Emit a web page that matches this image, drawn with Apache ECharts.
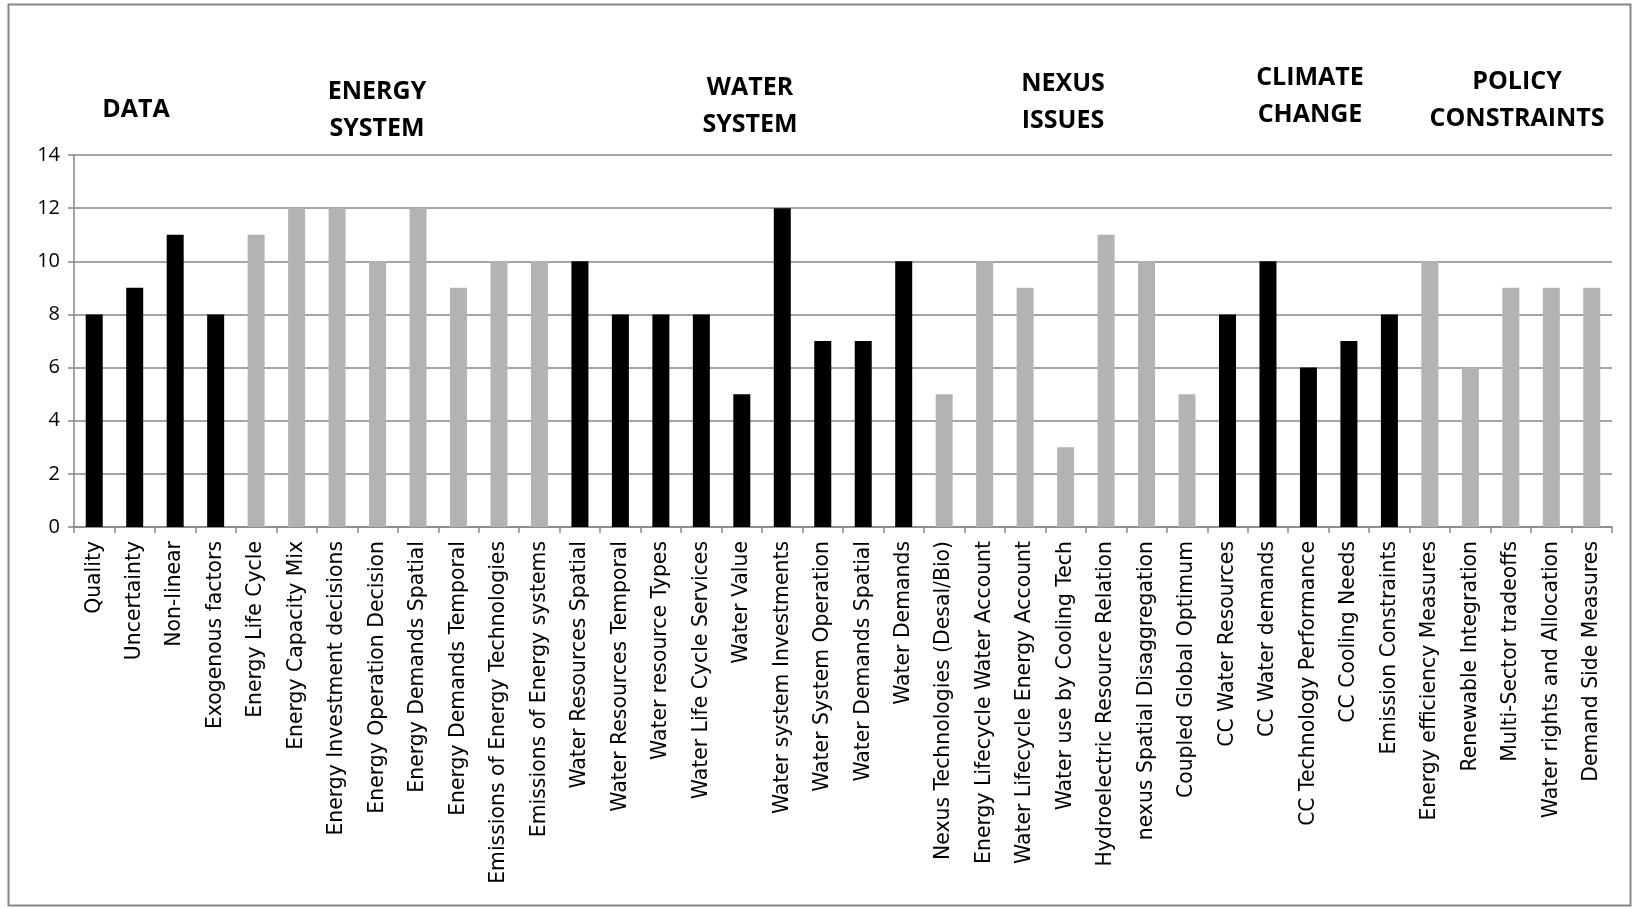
<!DOCTYPE html>
<html>
<head>
<meta charset="utf-8">
<script src="https://cdn.jsdelivr.net/npm/echarts@6/dist/echarts.min.js"></script>
<style>
  html, body { margin: 0; padding: 0; background: #ffffff; }
  #chart { width: 1633px; height: 908px; }
</style>
</head>
<body>
<div id="chart"></div>
<script>
// Model features, grouped by theme
const categories = [
  'Quality', 'Uncertainty', 'Non-linear', 'Exogenous factors',
  'Energy Life Cycle', 'Energy Capacity Mix', 'Energy Investment decisions', 'Energy Operation Decision',
  'Energy Demands Spatial', 'Energy Demands Temporal', 'Emissions of Energy Technologies', 'Emissions of Energy systems',
  'Water Resources Spatial', 'Water Resources Temporal', 'Water resource Types', 'Water Life Cycle Services',
  'Water Value', 'Water system Investments', 'Water System Operation', 'Water Demands Spatial', 'Water Demands',
  'Nexus Technologies (Desal/Bio)', 'Energy Lifecycle Water Account', 'Water Lifecycle Energy Account',
  'Water use by Cooling Tech', 'Hydroelectric Resource Relation', 'nexus Spatial Disaggregation', 'Coupled Global Optimum',
  'CC Water Resources', 'CC Water demands', 'CC Technology Performance', 'CC Cooling Needs', 'Emission Constraints',
  'Energy efficiency Measures', 'Renewable Integration', 'Multi-Sector tradeoffs', 'Water rights and Allocation',
  'Demand Side Measures'
];

// Number of models covering each feature
const values = [
  8, 9, 11, 8,
  11, 12, 12, 10, 12, 9, 10, 10,
  10, 8, 8, 8, 5, 12, 7, 7, 10,
  5, 10, 9, 3, 11, 10, 5,
  8, 10, 6, 7, 8,
  10, 6, 9, 9, 9
];

// Theme of each feature (index into groupNames)
const groupOf = [
  0, 0, 0, 0,
  1, 1, 1, 1, 1, 1, 1, 1,
  2, 2, 2, 2, 2, 2, 2, 2, 2,
  3, 3, 3, 3, 3, 3, 3,
  4, 4, 4, 4, 4,
  5, 5, 5, 5, 5
];

const groupNames = ['DATA', 'ENERGY\nSYSTEM', 'WATER\nSYSTEM', 'NEXUS\nISSUES', 'CLIMATE\nCHANGE', 'POLICY\nCONSTRAINTS'];
const groupColors = ['#000000', '#b3b3b3', '#000000', '#b3b3b3', '#000000', '#b3b3b3'];

const yTicks = { min: 0, max: 14, interval: 2 };

// Heading placement above the plot
const headingPos = [
  { x: 136, y: 110 },
  { x: 377, y: 110 },
  { x: 750, y: 106 },
  { x: 1063, y: 102 },
  { x: 1310, y: 96 },
  { x: 1517, y: 100 }
];

const chart = echarts.init(document.getElementById('chart'));

const axisGray = '#868686';

chart.setOption({
  backgroundColor: '#ffffff',
  animation: false,
  grid: { left: 74, right: 21, top: 155, bottom: 381, containLabel: false },
  xAxis: {
    type: 'category',
    data: categories,
    axisLine: { show: true, lineStyle: { color: axisGray, width: 1.5 } },
    axisTick: { show: true, length: 6, lineStyle: { color: axisGray, width: 1.5 } },
    axisLabel: {
      rotate: 90,
      interval: 0,
      margin: 14,
      color: '#000000',
      fontFamily: 'DejaVu Sans',
      fontSize: 20.4
    }
  },
  yAxis: {
    type: 'value',
    min: yTicks.min,
    max: yTicks.max,
    interval: yTicks.interval,
    axisLine: { show: true, lineStyle: { color: axisGray, width: 1.5 } },
    axisTick: { show: true, length: 6, lineStyle: { color: axisGray, width: 1.5 } },
    splitLine: { show: true, lineStyle: { color: axisGray, width: 1.5 } },
    axisLabel: {
      margin: 14,
      color: '#000000',
      fontFamily: 'Open Sans',
      fontSize: 20
    }
  },
  series: [{
    type: 'bar',
    barCategoryGap: '58%',
    data: values.map((v, i) => ({
      value: v,
      itemStyle: { color: groupColors[groupOf[i]] }
    }))
  }],
  graphic: [
    {
      type: 'rect',
      shape: { x: 8.5, y: 4.5, width: 1622, height: 901 },
      style: { fill: 'none', stroke: axisGray, lineWidth: 2 },
      silent: true
    }
  ].concat(groupNames.map((name, i) => ({
    type: 'text',
    x: headingPos[i].x,
    y: headingPos[i].y,
    style: {
      text: name,
      fill: '#000000',
      font: 'bold 25px "Open Sans"',
      align: 'center',
      verticalAlign: 'middle',
      lineHeight: 37
    },
    silent: true
  })))
});
</script>
</body>
</html>
